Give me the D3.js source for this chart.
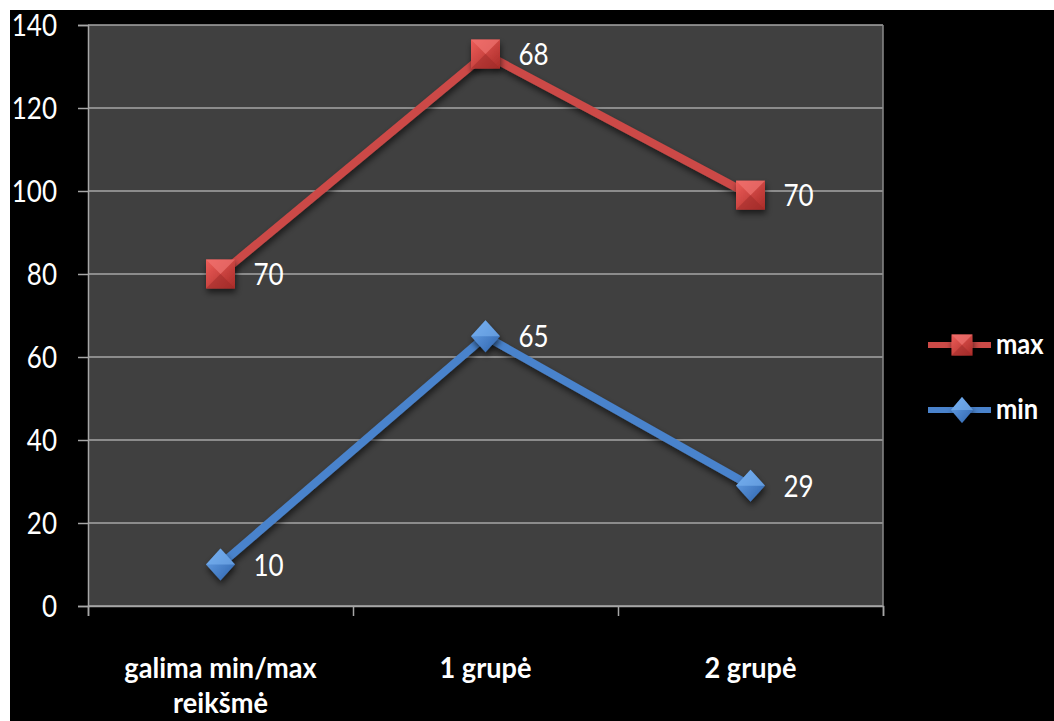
<!DOCTYPE html>
<html><head><meta charset="utf-8">
<script src="https://cdn.jsdelivr.net/npm/d3@7"></script>
<style>
html,body{margin:0;padding:0;background:#fff;}
svg{display:block;}
text{font-family:Lato,"Open Sans",sans-serif;fill:#fff;}
</style></head>
<body>
<script>
const categories = [["galima min/max","reikšmė"],["1 grupė"],["2 grupė"]];
const minValues = [10, 65, 29];
const maxValues = [70, 68, 70];
const yTicks = [0, 20, 40, 60, 80, 100, 120, 140];
const seriesNames = ["max", "min"];

(function(){
const W = 1054, H = 721;
const svg = d3.select("body").append("svg").attr("width", W).attr("height", H);
const defs = svg.append("defs");

svg.append("rect").attr("x",10).attr("y",10).attr("width",W-10).attr("height",H-10).attr("fill","#000");

const pL = 88, pR = 883, pT = 25, pB = 606;
const x = d3.scaleBand().domain(d3.range(categories.length)).range([pL, pR]).padding(0);
const y = d3.scaleLinear().domain([0, 140]).range([pB, pT]);
const cx = i => x(i) + x.bandwidth()/2;

function ctext(g, px, py, str, size, anchor, weight, sx){
  return g.append("text")
    .attr("transform", `translate(${px},${py}) scale(${sx||0.84},1)`)
    .attr("text-anchor", anchor||"start")
    .attr("font-size", size)
    .attr("font-weight", weight||"normal")
    .text(str);
}

svg.append("rect").attr("x",pL).attr("y",pT).attr("width",pR-pL).attr("height",pB-pT).attr("fill","#404040");

svg.append("g").selectAll("line").data(yTicks).join("line")
  .attr("x1", pL).attr("x2", pR).attr("y1", d=>y(d)).attr("y2", d=>y(d))
  .attr("stroke","#a6a6a6").attr("stroke-width",1.5);
svg.append("line").attr("x1",pR).attr("x2",pR).attr("y1",pT).attr("y2",pB).attr("stroke","#8a8a8a").attr("stroke-width",1.5);

const yAxis = svg.append("g").attr("transform",`translate(${pL},0)`)
  .call(d3.axisLeft(y).tickValues(yTicks).tickSize(10).tickFormat(""));
yAxis.select(".domain").attr("stroke","#a6a6a6").attr("stroke-width",1.5);
yAxis.selectAll(".tick line").attr("stroke","#a6a6a6").attr("stroke-width",1.5);
const yl = svg.append("g");
yTicks.forEach(t=>ctext(yl, 57, y(t)+11, t, 31, "end"));

const xAxis = svg.append("g").attr("transform",`translate(0,${pB})`)
  .call(d3.axisBottom(d3.scaleLinear().domain([0,3]).range([pL,pR])).tickValues([0,1,2,3]).tickSize(10).tickFormat(""));
xAxis.select(".domain").attr("stroke","#a6a6a6").attr("stroke-width",1.5);
xAxis.selectAll(".tick line").attr("stroke","#a6a6a6").attr("stroke-width",1.5);

const catG = svg.append("g");
categories.forEach((lines,i)=>{
  lines.forEach((l,j)=>ctext(catG, cx(i), 678 + j*35, l, 28, "middle", "bold", 0.97));
});

function grad(id, c1, c2){
  const g = defs.append("linearGradient").attr("id",id).attr("x1","0").attr("y1","0").attr("x2","1").attr("y2","1");
  g.append("stop").attr("offset","0").attr("stop-color",c1);
  g.append("stop").attr("offset","1").attr("stop-color",c2);
}
grad("gRed","#ee5e5a","#a92b28");
grad("gBlue","#6aa6ec","#2f64ad");
const shadow = defs.append("filter").attr("id","sh").attr("x","-50%").attr("y","-50%").attr("width","200%").attr("height","200%");
shadow.append("feDropShadow").attr("dx",1).attr("dy",4).attr("stdDeviation",3).attr("flood-color","#000").attr("flood-opacity",0.6);

const maxStacked = maxValues.map((v,i)=>v+minValues[i]);
const line = d3.line().x((d,i)=>cx(i)).y(d=>y(d));
const redC = "#cc4a47", blueC = "#4a83cc";

svg.append("path").datum(maxStacked).attr("d",line).attr("fill","none").attr("stroke",redC).attr("stroke-width",8).attr("filter","url(#sh)");
svg.append("path").datum(minValues).attr("d",line).attr("fill","none").attr("stroke",blueC).attr("stroke-width",8).attr("filter","url(#sh)");

function square(g, px, py, s){
  g.append("rect").attr("x",px-s/2).attr("y",py-s/2).attr("width",s).attr("height",s).attr("fill","url(#gRed)").attr("filter","url(#sh)");
  g.append("path").attr("d",`M${px-s/2},${py-s/2}L${px+s/2},${py-s/2}L${px},${py}Z`).attr("fill","#f07370").attr("opacity",0.7);
  g.append("path").attr("d",`M${px-s/2},${py+s/2}L${px+s/2},${py+s/2}L${px},${py}Z`).attr("fill","#9c2a27").attr("opacity",0.5);
}
function diamond(g, px, py, w, h){
  const a = w/2, b = h/2;
  g.append("path").attr("d",`M${px},${py-b}L${px+a},${py}L${px},${py+b}L${px-a},${py}Z`).attr("fill","url(#gBlue)").attr("filter","url(#sh)");
  g.append("path").attr("d",`M${px},${py-b}L${px+a},${py}L${px-a},${py}Z`).attr("fill","#7cb4f2").attr("opacity",0.6);
}

const mk = svg.append("g");
maxStacked.forEach((v,i)=>square(mk, cx(i), y(v), 29));
minValues.forEach((v,i)=>diamond(mk, cx(i), y(v), 29, 32));

const lbl = svg.append("g");
maxStacked.forEach((v,i)=>ctext(lbl, cx(i)+33, y(v)+11, maxValues[i], 31, "start"));
minValues.forEach((v,i)=>ctext(lbl, cx(i)+33, y(v)+11, v, 31, "start"));

const leg = svg.append("g");
const legY = [345, 410];
seriesNames.forEach((n,i)=>{
  const yy = legY[i];
  leg.append("line").attr("x1",928).attr("x2",991).attr("y1",yy).attr("y2",yy)
    .attr("stroke", i===0?redC:blueC).attr("stroke-width",6);
  if(i===0) square(leg, 962, yy, 21); else diamond(leg, 962, yy, 22, 26);
  ctext(leg, 996, yy+9, n, 29, "start", "bold", 0.88);
});
})();
</script>
</body></html>
